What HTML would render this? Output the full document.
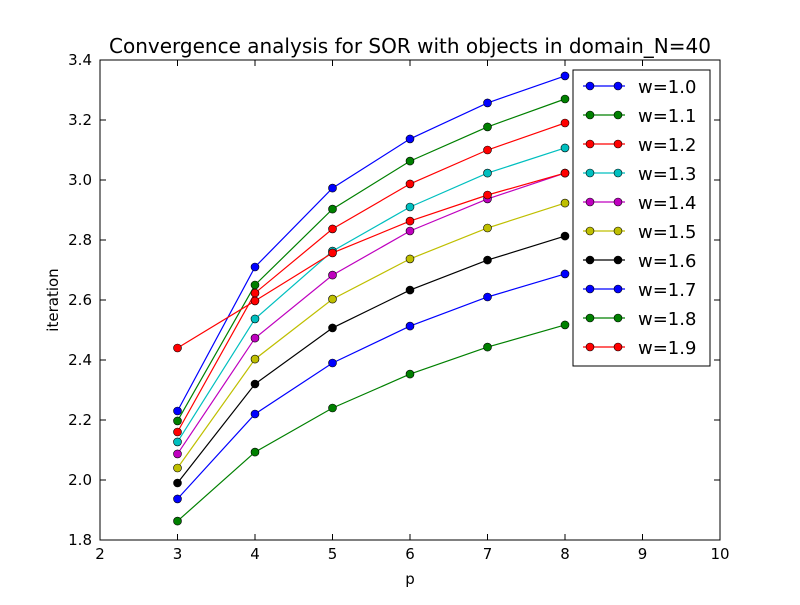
<!DOCTYPE html>
<html><head><meta charset="utf-8"><style>
body{margin:0;background:#fff}
svg text{font-family:"DejaVu Sans","Liberation Sans",sans-serif}
</style></head><body>
<svg id="chart" width="800" height="600" xmlns="http://www.w3.org/2000/svg">
<rect width="800" height="600" fill="#fff"/>
<g id="marks"></g>
<g id="axes"></g>
</svg>
<script>
const pValues = [3, 4, 5, 6, 7, 8];
const seriesLabels = ["w=1.0","w=1.1","w=1.2","w=1.3","w=1.4","w=1.5","w=1.6","w=1.7","w=1.8","w=1.9"];
const seriesColors = ["#0000ff","#008000","#ff0000","#00bfbf","#bf00bf","#bfbf00","#000000","#0000ff","#008000","#ff0000"];
const w10 = [2.23, 2.71, 2.973, 3.137, 3.257, 3.347];
const w11 = [2.197, 2.65, 2.903, 3.063, 3.177, 3.27];
const w12 = [2.16, 2.623, 2.837, 2.987, 3.1, 3.19];
const w13 = [2.127, 2.537, 2.763, 2.91, 3.023, 3.107];
const w14 = [2.087, 2.473, 2.683, 2.83, 2.937, 3.023];
const w15 = [2.04, 2.403, 2.603, 2.737, 2.84, 2.923];
const w16 = [1.99, 2.32, 2.507, 2.633, 2.733, 2.813];
const w17 = [1.937, 2.22, 2.39, 2.513, 2.61, 2.687];
const w18 = [1.863, 2.093, 2.24, 2.353, 2.443, 2.517];
const w19 = [2.44, 2.597, 2.757, 2.863, 2.95, 3.023];
const seriesValues = [w10,w11,w12,w13,w14,w15,w16,w17,w18,w19];
const xTicks = [2,3,4,5,6,7,8,9,10];
const yTicks = [1.8,2.0,2.2,2.4,2.6,2.8,3.0,3.2,3.4];

const L=100,R=720,T=60,B=540,xMin=2,xMax=10,yMin=1.8,yMax=3.4;
const xs=v=>L+(v-xMin)/(xMax-xMin)*(R-L);
const ys=v=>B-(v-yMin)/(yMax-yMin)*(B-T);
const NS="http://www.w3.org/2000/svg";
function mk(tag,attrs,parent){const e=document.createElementNS(NS,tag);for(const k in attrs)e.setAttribute(k,attrs[k]);parent.appendChild(e);return e;}
const marks=document.getElementById('marks'), axes=document.getElementById('axes');

seriesValues.forEach((vals,i)=>{
  const g=mk('g',{},marks);
  
  
  const pl=mk('polyline',{points:vals.map((v,j)=>xs(pValues[j])+','+ys(v)).join(' '),fill:'none',stroke:seriesColors[i],'stroke-width':1.2},g);
  
  
  vals.forEach((v,j)=>{
    const c=mk('circle',{cx:xs(pValues[j]),cy:ys(v),r:4,fill:seriesColors[i],stroke:'#000','stroke-width':0.6},g);
    
    
  });
});

const fr=mk('rect',{x:L,y:T,width:R-L,height:B-T,fill:'none',stroke:'#000','stroke-width':1},axes);


xTicks.forEach(t=>{
  const x=xs(t);
  mk('line',{x1:x,y1:B,x2:x,y2:B-6,stroke:'#000'},axes);
  mk('line',{x1:x,y1:T,x2:x,y2:T+6,stroke:'#000'},axes);
  const tx=mk('text',{x:x,y:B+19,'text-anchor':'middle','font-size':15},axes);
  tx.textContent=t;
  
  
});
yTicks.forEach(t=>{
  const y=ys(t);
  mk('line',{x1:L,y1:y,x2:L+6,y2:y,stroke:'#000'},axes);
  mk('line',{x1:R,y1:y,x2:R-6,y2:y,stroke:'#000'},axes);
  const tx=mk('text',{x:L-8,y:y+5,'text-anchor':'end','font-size':15},axes);
  tx.textContent=t.toFixed(1);
  
  
});
const title=mk('text',{x:410,y:53,'text-anchor':'middle','font-size':20},axes);
title.textContent='Convergence analysis for SOR with objects in domain_N=40';


const xl=mk('text',{x:410,y:584,'text-anchor':'middle','font-size':15},axes);
xl.textContent='p';


const yl=mk('text',{x:58,y:300,'text-anchor':'middle','font-size':15,transform:'rotate(-90 58 300)'},axes);
yl.textContent='iteration';



const lg=mk('g',{},axes);


mk('rect',{x:573,y:70,width:137,height:296,fill:'#fff',stroke:'#000','stroke-width':1},lg);
seriesLabels.forEach((s,i)=>{
  const y=86+i*29;
  const e=mk('g',{},lg);
  
  
  mk('line',{x1:583,y1:y,x2:625,y2:y,stroke:seriesColors[i],'stroke-width':1.2},e);
  mk('circle',{cx:590,cy:y,r:4,fill:seriesColors[i],stroke:'#000','stroke-width':0.6},e);
  mk('circle',{cx:618,cy:y,r:4,fill:seriesColors[i],stroke:'#000','stroke-width':0.6},e);
  const t=mk('text',{x:638,y:y+7,'font-size':18},e);
  t.textContent=s;
});
</script>
</body></html>
